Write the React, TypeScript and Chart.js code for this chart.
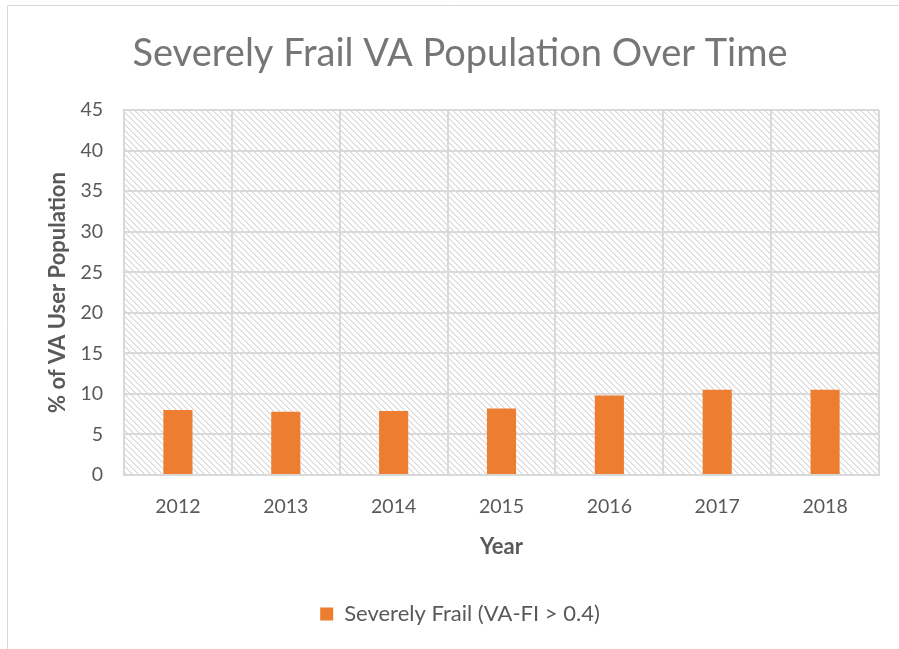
import React, { useEffect, useRef } from "react";
import { Chart, registerables } from "chart.js";

Chart.register(...registerables);

const chartTitle = "Severely Frail VA Population Over Time";
const years = ["2012", "2013", "2014", "2015", "2016", "2017", "2018"];
const seriesLabel = "Severely Frail (VA-FI > 0.4)";
const severelyFrail = [8.0, 7.8, 7.9, 8.2, 9.8, 10.5, 10.5];
const yMin = 0;
const yMax = 45;
const yStep = 5;
const xAxisTitle = "Year";
const yAxisTitle = "% of VA User Population";

const FONT = "Lato";

function makePattern(ctx: CanvasRenderingContext2D) {
  const n = 6;
  const c = document.createElement("canvas");
  c.width = n;
  c.height = n;
  const g = c.getContext("2d")!;
  const img = g.createImageData(n, n);
  for (let y = 0; y < n; y++) {
    for (let x = 0; x < n; x++) {
      const d = (((x - y) % n) + n) % n;
      const v = d === 0 ? 216 : d === 1 ? 234 : 255;
      const i = (y * n + x) * 4;
      img.data[i] = v;
      img.data[i + 1] = v;
      img.data[i + 2] = v;
      img.data[i + 3] = 255;
    }
  }
  g.putImageData(img, 0, 0);
  return ctx.createPattern(c, "repeat");
}

const backgroundPlugin = {
  id: "bgPlugin",
  beforeDraw(chart: any) {
    const ctx = chart.ctx as CanvasRenderingContext2D;
    const { left, top, right, bottom } = chart.chartArea;
    ctx.save();
    ctx.fillStyle = "#ffffff";
    ctx.fillRect(0, 0, chart.width, chart.height);
    ctx.strokeStyle = "#d9d9d9";
    ctx.lineWidth = 1;
    ctx.beginPath();
    ctx.moveTo(7.5, chart.height);
    ctx.lineTo(7.5, 5.5);
    ctx.lineTo(chart.width, 5.5);
    ctx.stroke();
    const pat = makePattern(ctx);
    if (pat) {
      ctx.fillStyle = pat;
      ctx.fillRect(left, top, right - left, bottom - top);
    }
    ctx.restore();
  },
};

export default function App() {
  const ref = useRef<HTMLCanvasElement | null>(null);

  useEffect(() => {
    if (!ref.current) return;
    const chart = new Chart(ref.current, {
      type: "bar",
      data: {
        labels: years,
        datasets: [
          {
            label: seriesLabel,
            data: severelyFrail,
            backgroundColor: "#ED7D31",
            borderWidth: 0,
            barPercentage: 0.27,
            categoryPercentage: 1,
          },
        ],
      },
      options: {
        animation: false,
        responsive: false,
        devicePixelRatio: 1,
        layout: { padding: { left: 41, right: 20, top: 0, bottom: 14 } },
        plugins: {
          title: {
            display: true,
            text: chartTitle,
            color: "#767676",
            font: { family: FONT, size: 38, weight: "normal" },
            padding: { top: 31, bottom: 33.4 },
          },
          legend: {
            display: true,
            position: "bottom",
            labels: {
              color: "#595959",
              font: { family: FONT, size: 22 },
              boxWidth: 13,
              boxHeight: 13,
              padding: 10,
            },
          },
          tooltip: { enabled: false },
        },
        scales: {
          x: {
            grid: {
              color: "#d9d9d9",
              lineWidth: 2,
              drawTicks: false,
              offset: true,
            },
            border: { color: "#d9d9d9", width: 2 },
            ticks: {
              color: "#595959",
              font: { family: FONT, size: 19.5 },
              padding: 20,
            },
            title: {
              display: true,
              text: xAxisTitle,
              color: "#595959",
              font: { family: FONT, size: 22, weight: "bold" },
              padding: { top: 0, bottom: 33 },
            },
            afterFit(scale: any) {
              scale.height = 118;
            },
          },
          y: {
            min: yMin,
            max: yMax,
            grid: {
              color: "#d9d9d9",
              lineWidth: 2,
              drawTicks: false,
            },
            border: { color: "#d9d9d9", width: 2 },
            ticks: {
              stepSize: yStep,
              color: "#595959",
              font: { family: FONT, size: 19.5 },
              padding: 21,
            },
            title: {
              display: true,
              text: yAxisTitle,
              color: "#595959",
              font: { family: FONT, size: 22, weight: "bold" },
              padding: { top: 4, bottom: 0 },
            },
            afterFit(scale: any) {
              scale.width = 83;
            },
          },
        },
      },
      plugins: [backgroundPlugin],
    });
    return () => chart.destroy();
  }, []);

  return (
    <div
      style={{
        position: "fixed",
        left: 0,
        top: 0,
        width: 899,
        height: 649,
        background: "#ffffff",
        overflow: "hidden",
      }}
    >
      <canvas ref={ref} width={899} height={649} style={{ width: 899, height: 649, display: "block" }} />
    </div>
  );
}
